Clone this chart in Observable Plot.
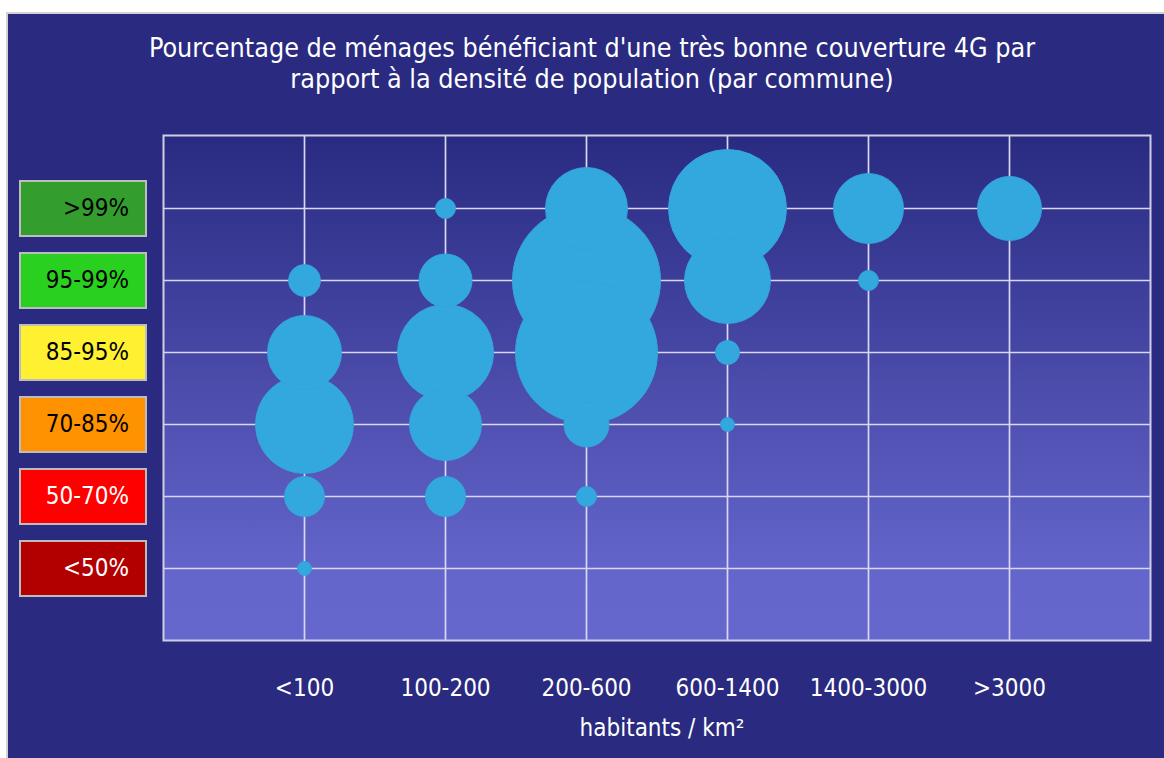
<!DOCTYPE html>
<html>
<head>
<meta charset="utf-8">
<script src="https://cdn.jsdelivr.net/npm/d3@7"></script>
<script src="https://cdn.jsdelivr.net/npm/@observablehq/plot@0.6"></script>
<style>
  html, body { margin: 0; padding: 0; background: #ffffff; width: 1164px; height: 758px; overflow: hidden; }
  #frame { position: absolute; left: 6px; top: 12px; width: 1158px; height: 746px; background: #292a80;
           border-left: 2px solid #d2d2d2; border-top: 2px solid #d2d2d2; box-sizing: border-box; }
  #title { position: absolute; left: 20px; top: 32px; width: 1144px; text-align: center; color: #ffffff;
           font-family: "DejaVu Sans Condensed", "DejaVu Sans", sans-serif; font-size: 26.7px; line-height: 31px; }
  #chart { position: absolute; left: 0; top: 0; }
  .legend-box { position: absolute; left: 19px; width: 128px; height: 57px; box-sizing: border-box;
                border: 2px solid #bdbdbd; text-align: right; padding-right: 16px;
                font-family: "DejaVu Sans Condensed", "DejaVu Sans", sans-serif; font-size: 24px; line-height: 53px; }
</style>
</head>
<body>
<div id="frame"></div>
<div id="title">Pourcentage de ménages bénéficiant d'une très bonne couverture 4G par<br>rapport à la densité de population (par commune)</div>
<div id="chart"></div>
<div id="legend"></div>
<script>
// Density classes (x) and coverage classes (y)
const categories = ["<100", "100-200", "200-600", "600-1400", "1400-3000", ">3000"];
const levels = [">99%", "95-99%", "85-95%", "70-85%", "50-70%", "<50%"];
const levelColors = ["#339e2e", "#2ad020", "#fff032", "#ff9200", "#ff0000", "#b20000"];
const levelTextColors = ["#000000", "#000000", "#000000", "#000000", "#ffffff", "#ffffff"];
const xLabel = "habitants / km²";

// Bubble size (relative number of communes), ordered like `levels`, one array per density class
const countsLt100    = [0,   64,   342,  600, 100, 12];
const counts100_200  = [25,  176,  576,  324, 100, 0];
const counts200_600  = [420, 1369, 1260, 127, 25,  0];
const counts600_1400 = [870, 462,  36,   12,  0,   0];
const counts1400_3000 = [306, 25,  0,    0,   0,   0];
const countsGt3000   = [256, 0,    0,    0,   0,   0];

const countsByCategory = [countsLt100, counts100_200, counts200_600, counts600_1400, counts1400_3000, countsGt3000];
const rows = [];
categories.forEach((c, i) => {
  levels.forEach((l, j) => {
    const v = countsByCategory[i][j];
    if (v > 0) rows.push({density: c, level: l, count: v});
  });
});

const FONT = '"DejaVu Sans Condensed", "DejaVu Sans", sans-serif';

function plotBackground(index, scales, values, dimensions) {
  const {width, height, marginTop, marginLeft, marginRight, marginBottom} = dimensions;
  const g = d3.create("svg:g");
  const grad = g.append("defs").append("linearGradient")
    .attr("id", "plotbg").attr("x1", 0).attr("y1", 0).attr("x2", 0).attr("y2", 1);
  grad.append("stop").attr("offset", "0%").attr("stop-color", "#292a80");
  grad.append("stop").attr("offset", "88%").attr("stop-color", "#6566cc");
  grad.append("stop").attr("offset", "100%").attr("stop-color", "#6667cd");
  g.append("rect")
    .attr("x", marginLeft).attr("y", marginTop)
    .attr("width", width - marginLeft - marginRight)
    .attr("height", height - marginTop - marginBottom)
    .attr("fill", "url(#plotbg)");
  return g.node();
}

const plot = Plot.plot({
  width: 1164,
  height: 758,
  marginLeft: 163,
  marginRight: 14,
  marginTop: 135,
  marginBottom: 118,
  style: {background: "transparent", fontFamily: FONT, fontSize: "24px", color: "#ffffff", overflow: "visible"},
  x: {type: "point", domain: categories, padding: 1},
  y: {type: "point", domain: levels, padding: 1, axis: null},
  r: {type: "sqrt", domain: [0, 1369], range: [0, 74]},
  marks: [
    plotBackground,
    Plot.gridX({stroke: "#d8d8f4", strokeOpacity: 1, strokeWidth: 1.7}),
    Plot.gridY({stroke: "#d8d8f4", strokeOpacity: 1, strokeWidth: 1.7}),
    Plot.frame({stroke: "#cfcfe4", strokeWidth: 2}),
    Plot.dot(rows, {x: "density", y: "level", r: "count", fill: "#33a8df", stroke: "#35a3dc", strokeWidth: 1}),
    Plot.axisX({tickSize: 0, tickPadding: 38, fontSize: 24, fill: "#ffffff", label: null}),
    Plot.text([xLabel], {frameAnchor: "bottom", dy: 95, dx: 5, fontSize: 24, fill: "#ffffff"})
  ]
});
document.getElementById("chart").appendChild(plot);

// Coverage legend boxes aligned to the y scale rows
const yScale = plot.scale("y");
const legend = document.getElementById("legend");
levels.forEach((l, j) => {
  const div = document.createElement("div");
  div.className = "legend-box";
  div.style.top = (yScale.apply(l) - 28.5) + "px";
  div.style.background = levelColors[j];
  div.style.color = levelTextColors[j];
  div.textContent = l;
  legend.appendChild(div);
});
</script>
</body>
</html>
